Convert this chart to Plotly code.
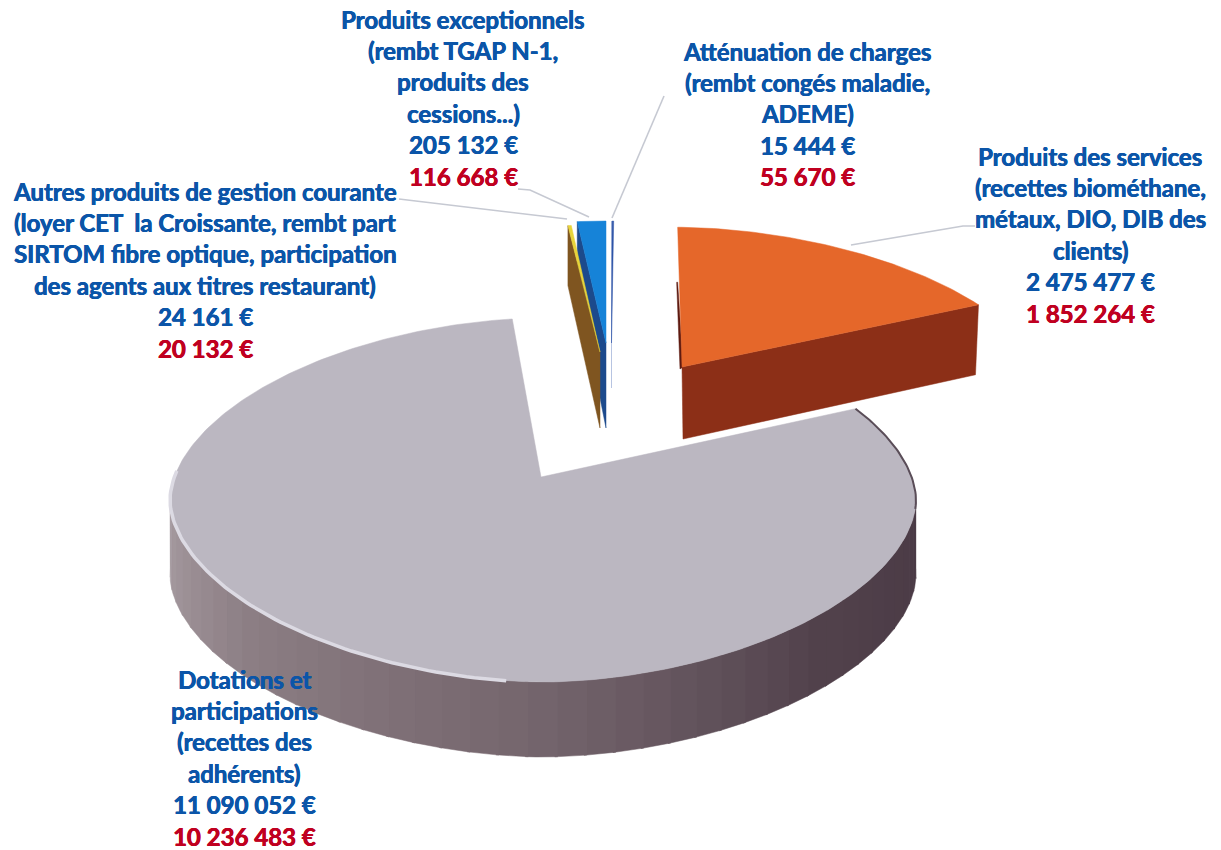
import numpy as np
import plotly.graph_objects as go

# ---------- data ----------
categories = ["Produits des services", "Dotations et participations",
              "Autres produits de gestion courante", "Produits exceptionnels",
              "Atténuation de charges"]
values_blue = [2475477, 11090052, 24161, 205132, 15444]
values_red = ["1 852 264 €", "10 236 483 €", "20 132 €", "116 668 €", "55 670 €"]
amounts_blue = ["2 475 477 €", "11 090 052 €", "24 161 €", "205 132 €", "15 444 €"]
label_lines = [
    ["Produits des services", "(recettes biométhane,", "métaux, DIO, DIB des", "clients)"],
    ["Dotations et", "participations", "(recettes des", "adhérents)"],
    ["Autres produits de gestion courante", "(loyer CET  la Croissante, rembt part",
     "SIRTOM fibre optique, participation", "des agents aux titres restaurant)"],
    ["Produits exceptionnels", "(rembt TGAP N-1,", "produits des", "cessions...)"],
    ["Atténuation de charges", "(rembt congés maladie,", "ADEME)"],
]

# ---------- layout of the drawing ----------
W, H = 1221, 850
CX, CY, RX, RY = 543, 500, 373, 182
APEX = np.array([541.0, 477.0])
K = (CY - APEX[1]) / RY  # perspective shift of the pie centre
N = 1.85                 # rim slightly flatter than an ellipse
START = 1.0
# per slice: apex, affine (a, b, c, d), depth at apex, depth at rim, top colour, side colour
STY = [
    dict(apex=(682, 367), m=(.9587, .0739, -.007, .879), da=72, dr=70, top="#e5672a", side="#8c2f17"),
    dict(apex=(541, 477), m=(1, 0, 0, 1), da=75, dr=75, top="#bbb7c1", side="#8b7f84"),
    dict(apex=(600, 352), m=(.94, .032, 0, .80), da=76, dr=60, top="#e8d43a", side="#7f5520"),
    dict(apex=(606, 343), m=(.94, .032, 0, .767), da=85, dr=62, top="#1683d8", side="#1c4a8c"),
    dict(apex=(611.5, 343), m=(.94, .032, 0, .767), da=45, dr=40, top="#2f55a8", side="#9fb0d6"),
]
LABEL_POS = [(1090, 156), (244, 679), (205, 191), (463, 19), (807, 51)]
LINE_PITCH = 31.4
BLUE, RED = "#0b55a8", "#c00020"
LEADERS = [
    ([851, 963, 975], [245, 226, 226]),
    ([589, 530, 518], [217, 190, 189]),
    ([567, 500, 399], [219, 211, 199]),
    ([612, 664], [218, 96]),
]


def rim(a_deg):
    a = np.radians(a_deg)
    u, v = np.sin(a), np.cos(a)
    den = 1 + K * v
    X, Y = u * np.sqrt(1 - K * K) / den, (v + K) / den
    r = (np.abs(X) ** N + np.abs(Y) ** N) ** (-1 / N)
    return CX + RX * X * r, CY - RY * Y * r


def to_slice(x, y, s):
    dx, dy = np.asarray(x) - APEX[0], np.asarray(y) - APEX[1]
    a, b, c, d = s["m"]
    return s["apex"][0] + a * dx + b * dy, s["apex"][1] + c * dx + d * dy


def poly(fig, x, y, fill, line=None, width=0.5):
    fig.add_trace(go.Scatter(x=list(x), y=list(y), mode="lines", fill="toself", fillcolor=fill,
                             line=dict(color=line or fill, width=width), hoverinfo="skip",
                             showlegend=False))


def mix(c0, c1, t):
    return "rgb(%d,%d,%d)" % tuple(c0[i] + (c1[i] - c0[i]) * t for i in range(3))


total = sum(values_blue)
spans = [v / total * 360 for v in values_blue]
edges = START + np.concatenate([[0], np.cumsum(spans)])

fig = go.Figure()

# grey slice: side strips, then top
g0, g1 = edges[1], edges[2]
shade = [(94, (74, 58, 69)), (135, (82, 66, 76)), (180, (117, 102, 110)),
         (225, (140, 126, 132)), (266, (172, 162, 167))]
steps = np.arange(94, 266, 4)
for a in steps:
    aa = np.linspace(a, a + 4.4, 4)
    x, y = rim(aa)
    k = next(i for i in range(len(shade) - 1) if a < shade[i + 1][0])
    t = (a - shade[k][0]) / (shade[k + 1][0] - shade[k][0])
    col = mix(shade[k][1], shade[k + 1][1], t)
    poly(fig, np.r_[x, x[::-1]], np.r_[y, y[::-1] + STY[1]["da"]], col)

aa = np.linspace(g0, g1, 300)
x, y = rim(aa)
poly(fig, np.r_[APEX[0], x, APEX[0]], np.r_[APEX[1], y, APEX[1]], STY[1]["top"])
# rim highlights
x, y = rim(np.linspace(185, 272, 80))
fig.add_trace(go.Scatter(x=x, y=y, mode="lines", line=dict(color="#dcdae3", width=3.5),
                         hoverinfo="skip", showlegend=False))
x, y = rim(np.linspace(g0, 100, 40))
fig.add_trace(go.Scatter(x=x, y=y, mode="lines", line=dict(color="#5a4d58", width=2),
                         hoverinfo="skip", showlegend=False))

# thin slices, nearest to the left drawn last
for i in (4, 3, 2):
    s = STY[i]
    ax, ay = s["apex"]
    rx0, ry0 = to_slice(*rim(edges[i]), s)
    poly(fig, [ax, rx0, rx0, ax, ax], [ay, ry0, ry0 + s["dr"], ay + s["da"], ay], s["side"])
    xa, ya = to_slice(*rim(np.linspace(edges[i], edges[i + 1], 12)), s)
    poly(fig, np.r_[ax, xa, ax], np.r_[ay, ya, ay], s["top"])

# orange slice
s = STY[0]
ax, ay = s["apex"]
x0, y0 = to_slice(*rim(edges[0]), s)
x1, y1 = to_slice(*rim(edges[1]), s)
poly(fig, [x0, x0 - 1, ax - 2, ax + 1, x0], [y0 + 55, y0 + 55, ay + 2, ay, y0 + 55], "#5e1a10")
poly(fig, [ax, x1, x1 - 3, ax + 1, ax], [ay, y1, y1 + s["dr"], ay + s["da"], ay], s["side"])
xa, ya = to_slice(*rim(np.linspace(edges[0], edges[1], 80)), s)
poly(fig, np.r_[ax, xa, ax], np.r_[ay, ya, ay], s["top"])

# leader lines
for lx, ly in LEADERS:
    fig.add_trace(go.Scatter(x=lx, y=ly, mode="lines", line=dict(color="#c6c9d2", width=1.6),
                             hoverinfo="skip", showlegend=False))

# labels
for i, lines in enumerate(label_lines):
    px, py = LABEL_POS[i]
    rows = [(t, BLUE) for t in lines] + [(amounts_blue[i], BLUE), (values_red[i], RED)]
    for j, (t, col) in enumerate(rows):
        fig.add_annotation(x=px, y=py + j * LINE_PITCH, text="<b>%s</b>" % t, showarrow=False,
                           xanchor="center", yanchor="middle",
                           font=dict(family="Lato, Open Sans, sans-serif", size=24, color=col,
                                     shadow="0.4px 0 0 %s, -0.3px 0 0 %s" % (col, col)))

fig.update_xaxes(range=[0, W], visible=False, fixedrange=True)
fig.update_yaxes(range=[H, 0], visible=False, fixedrange=True)
fig.update_layout(width=W, height=H, margin=dict(l=0, r=0, t=0, b=0),
                  paper_bgcolor="white", plot_bgcolor="white", showlegend=False)
fig.write_html("out.html", config=dict(displayModeBar=False),
               post_script="document.body.style.margin='0';document.body.style.overflow='hidden';")
